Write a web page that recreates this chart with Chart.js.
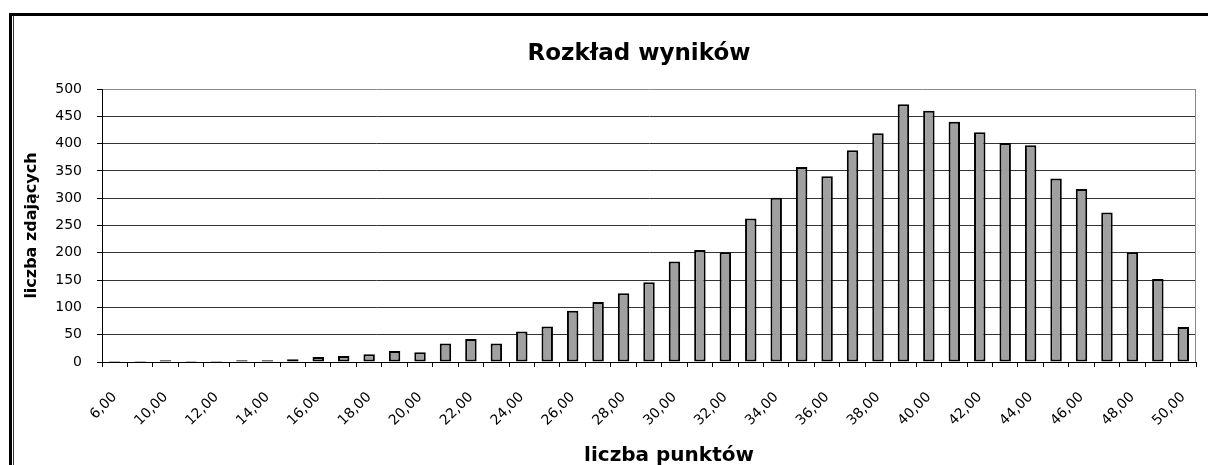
<!DOCTYPE html>
<html><head><meta charset="utf-8">
<script src="https://cdn.jsdelivr.net/npm/chart.js@4.4.1/dist/chart.umd.min.js"></script>
<style>html,body{margin:0;padding:0;background:#fff;overflow:hidden}</style>
</head><body>
<canvas id="c" width="1208" height="465"></canvas>
<script>
const categories = ['6,00','8,00','10,00','11,00','12,00','13,00','14,00','15,00','16,00','17,00','18,00','19,00','20,00','21,00','22,00','23,00','24,00','25,00','26,00','27,00','28,00','29,00','30,00','31,00','32,00','33,00','34,00','35,00','36,00','37,00','38,00','39,00','40,00','41,00','42,00','43,00','44,00','45,00','46,00','47,00','48,00','49,00','50,00'];
const counts = [2,2,3,2,2,3,3,5,9,11,14,20,18,34,42,34,56,65,94,110,126,146,184,205,201,263,301,357,340,388,419,472,460,440,421,401,397,336,317,274,201,152,64];
const yMin = 0, yMax = 500, yStep = 50;
const chartTitle = 'Rozkład wyników';
const xTitle = 'liczba punktów';
const yTitle = 'liczba zdających';

const framePlugin = {
  id: 'frame',
  beforeDraw(chart) {
    const ctx = chart.ctx;
    ctx.save();
    ctx.fillStyle = '#fff';
    ctx.fillRect(0, 0, chart.width, chart.height);
    ctx.fillStyle = '#000';
    ctx.fillRect(9, 13, chart.width - 9, 3);
    ctx.fillRect(9, 13, 3, chart.height - 13);
    ctx.fillStyle = '#333';
    ctx.fillRect(13, 16, 1, chart.height - 16);
    ctx.restore();
  },
  beforeDatasetsDraw(chart) {
    const a = chart.chartArea, ctx = chart.ctx;
    ctx.save();
    ctx.strokeStyle = '#8a8a8a';
    ctx.lineWidth = 1;
    ctx.beginPath();
    ctx.moveTo(Math.round(a.right) - 0.5, a.top);
    ctx.lineTo(Math.round(a.right) - 0.5, a.bottom);
    ctx.stroke();
    ctx.restore();
  },
  afterDraw(chart) {
    const ctx = chart.ctx;
    ctx.save();
    ctx.fillStyle = '#000';
    ctx.textAlign = 'center';
    ctx.textBaseline = 'middle';
    ctx.font = 'bold 23px "DejaVu Sans"';
    ctx.fillText(chartTitle, 639, 54);
    ctx.font = 'bold 20px "DejaVu Sans"';
    ctx.fillText(xTitle, 669, 456);
    ctx.restore();
  }
};

new Chart(document.getElementById('c'), {
  type: 'bar',
  data: {
    labels: categories,
    datasets: [{
      data: counts,
      backgroundColor: '#a0a0a0',
      borderColor: '#000',
      borderWidth: 2,
      borderSkipped: false,
      categoryPercentage: 1,
      barPercentage: 0.45
    }]
  },
  options: {
    responsive: false,
    animation: false,
    devicePixelRatio: 1,
    layout: { padding: { left: 0, right: 12, top: 89, bottom: 0 } },
    plugins: {
      legend: { display: false },
      tooltip: { enabled: false },
      title: { display: false }
    },
    scales: {
      x: {
        afterFit(scale) { scale.height = 103; scale.paddingRight = 0; scale.paddingLeft = 0; },
        grid: { offset: true, drawOnChartArea: false, drawTicks: true, tickLength: 5, tickColor: '#000' },
        border: { display: true, color: '#000', width: 1 },
        ticks: {
          autoSkip: false,
          minRotation: 45,
          maxRotation: 45,
          padding: 22,
          color: '#000',
          font: { family: 'DejaVu Sans', size: 14 },
          callback: (v, i) => (i % 2 === 0 ? categories[i] : '')
        },
        title: { display: false }
      },
      y: {
        min: yMin,
        max: yMax,
        afterFit(scale) { scale.width = 102; },
        grid: {
          color: (c) => (c.tick && c.tick.value === yMax ? '#8a8a8a' : '#333'),
          lineWidth: 1,
          drawTicks: true,
          tickLength: 5,
          tickColor: '#000'
        },
        border: { display: true, color: '#000', width: 1 },
        ticks: {
          stepSize: yStep,
          padding: 15,
          color: '#000',
          font: { family: 'DejaVu Sans', size: 14 }
        },
        title: {
          display: true,
          text: yTitle,
          color: '#000',
          font: { family: 'DejaVu Sans', size: 16, weight: 'bold', lineHeight: 1 },
          padding: { top: 24, bottom: 0 }
        }
      }
    }
  },
  plugins: [framePlugin]
});
</script>
</body></html>
